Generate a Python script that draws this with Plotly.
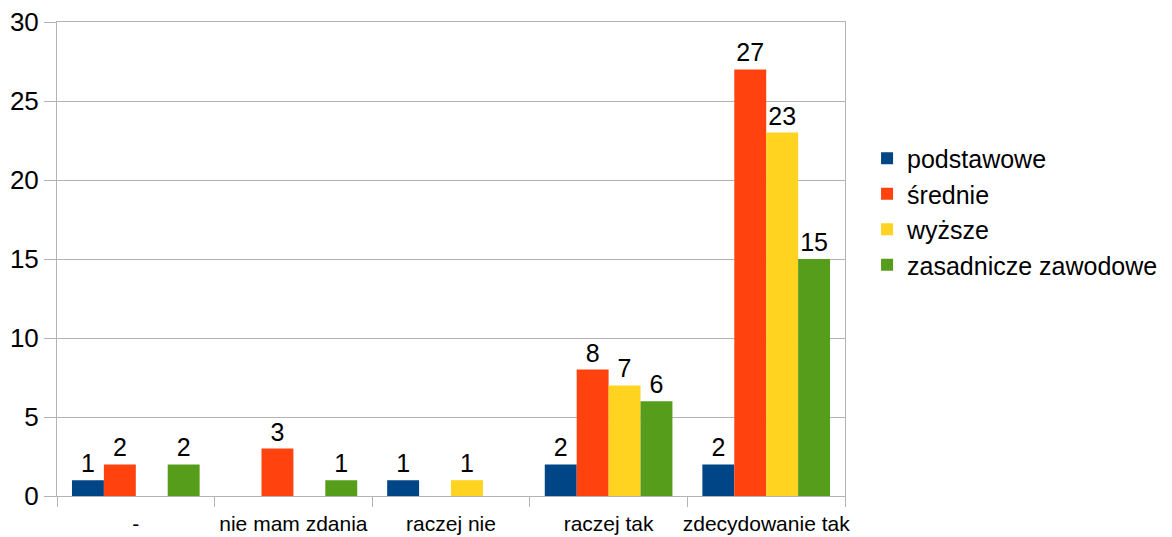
import plotly.graph_objects as go

categories = ["-", "nie mam zdania", "raczej nie", "raczej tak", "zdecydowanie tak"]
podstawowe = [1, None, 1, 2, 2]
srednie = [2, 3, None, 8, 27]
wyzsze = [None, None, 1, 7, 23]
zasadnicze = [2, 1, None, 6, 15]

series = [
    ("podstawowe", podstawowe, "#004586"),
    ("średnie", srednie, "#ff420e"),
    ("wyższe", wyzsze, "#ffd320"),
    ("zasadnicze zawodowe", zasadnicze, "#579d1c"),
]

fig = go.Figure()
for name, vals, col in series:
    fig.add_trace(go.Bar(
        x=categories, y=vals, name=name,
        marker=dict(color=col, line=dict(width=0)),
        text=[("" if v is None else str(v)) for v in vals],
        textposition="outside", cliponaxis=False,
        textfont=dict(size=25, color="black"),
    ))

# page puts the figure 8px in from the top-left corner
fig.update_layout(
    barmode="group", bargap=0.19, bargroupgap=0,
    width=1164, height=529,
    margin=dict(l=49, r=327, t=14, b=41, autoexpand=False),
    plot_bgcolor="white", paper_bgcolor="white",
    font=dict(family="Liberation Sans, Arial, sans-serif", color="black"),
    legend=dict(x=1.028, y=0.6, xanchor="left", yanchor="middle",
                font=dict(size=25), itemwidth=30, tracegroupgap=0),
)
fig.update_xaxes(
    type="category", tickson="boundaries", ticks="outside", ticklen=10,
    tickcolor="#b3b3b3", showline=True, linecolor="#b3b3b3", mirror=True,
    showgrid=False, tickfont=dict(size=21), tickangle=0, automargin=False,
    ticklabelstandoff=9,
)
fig.update_yaxes(
    range=[0, 30], dtick=5, ticks="outside", ticklen=12, tickcolor="#b3b3b3",
    showline=True, linecolor="#b3b3b3", mirror=True, automargin=False,
    gridcolor="#b3b3b3", gridwidth=1, tickfont=dict(size=26), zeroline=False,
    ticklabeloverflow="allow",
)

fig.write_html("out.html")
